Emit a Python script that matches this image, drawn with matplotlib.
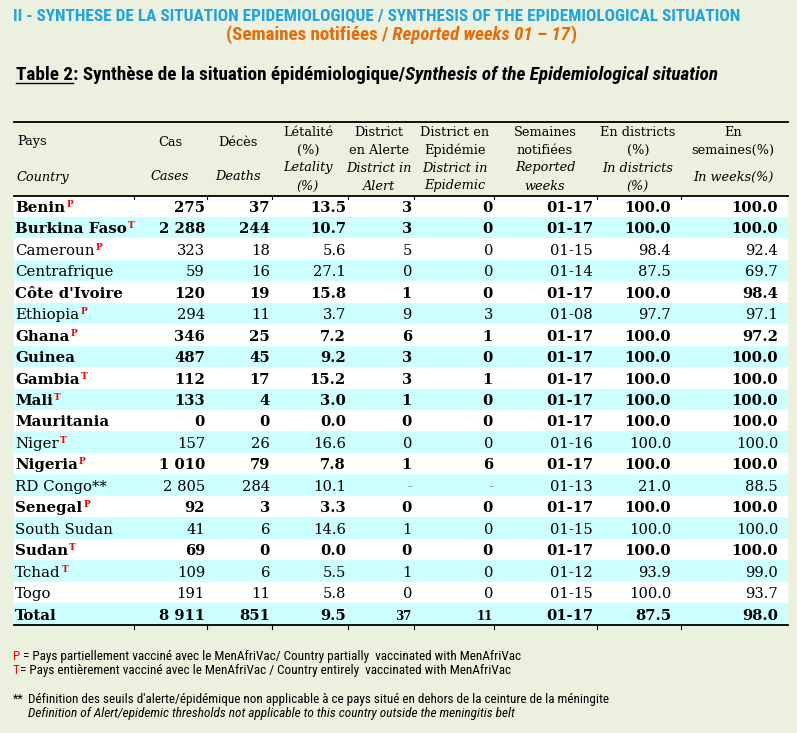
import matplotlib
matplotlib.use("Agg")
import matplotlib.pyplot as plt
from matplotlib import font_manager
from matplotlib.patches import Rectangle

# table data
countries = ["Benin", "Burkina Faso", "Cameroun", "Centrafrique", "Côte d'Ivoire",
             "Ethiopia", "Ghana", "Guinea", "Gambia", "Mali", "Mauritania", "Niger",
             "Nigeria", "RD Congo**", "Senegal", "South Sudan", "Sudan", "Tchad",
             "Togo", "Total"]
vacc_marks = ["P", "T", "P", "", "", "P", "P", "", "T", "T", "", "T", "P", "",
              "P", "", "T", "T", "", ""]
bold_rows = [True, True, False, False, True, False, True, True, True, True, True,
             False, True, False, True, False, True, False, False, True]
cases = [275, 2288, 323, 59, 120, 294, 346, 487, 112, 133, 0, 157, 1010, 2805,
         92, 41, 69, 109, 191, 8911]
deaths = [37, 244, 18, 16, 19, 11, 25, 45, 17, 4, 0, 26, 79, 284, 3, 6, 0, 6, 11, 851]
letality = [13.5, 10.7, 5.6, 27.1, 15.8, 3.7, 7.2, 9.2, 15.2, 3.0, 0.0, 16.6, 7.8,
            10.1, 3.3, 14.6, 0.0, 5.5, 5.8, 9.5]
alert = [3, 3, 5, 0, 1, 9, 6, 3, 3, 1, 0, 0, 1, None, 0, 1, 0, 1, 0, 37]
epidemic = [0, 0, 0, 0, 0, 3, 1, 0, 1, 0, 0, 0, 6, None, 0, 0, 0, 0, 0, 11]
weeks = ["01-17", "01-17", "01-15", "01-14", "01-17", "01-08", "01-17", "01-17",
         "01-17", "01-17", "01-17", "01-16", "01-17", "01-13", "01-17", "01-15",
         "01-17", "01-12", "01-15", "01-17"]
pct_districts = [100.0, 100.0, 98.4, 87.5, 100.0, 97.7, 100.0, 100.0, 100.0, 100.0,
                 100.0, 100.0, 100.0, 21.0, 100.0, 100.0, 100.0, 93.9, 100.0, 87.5]
pct_weeks = [100.0, 100.0, 92.4, 69.7, 98.4, 97.1, 97.2, 100.0, 100.0, 100.0, 100.0,
             100.0, 100.0, 88.5, 100.0, 100.0, 100.0, 99.0, 93.7, 98.0]

hdr_fr = [["Pays"], ["Cas"], ["Décès"], ["Létalité", "(%)"], ["District", "en Alerte"],
          ["District en", "Epidémie"], ["Semaines", "notifiées"], ["En districts", "(%)"],
          ["En", "semaines(%)"]]
hdr_en = [["Country"], ["Cases"], ["Deaths"], ["Letality", "(%)"], ["District in", "Alert"],
          ["District in", "Epidemic"], ["Reported", "weeks"], ["In districts", "(%)"],
          ["In weeks(%)"]]

BG = "#EBF1DE"
CYAN = "#CCFFFF"
BLUE = "#1FA3DD"
ORANGE = "#E46C0A"
RED = "#FF0000"

# pick a narrow sans for the titles and notes if one is installed
NARROW, STRETCH = "DejaVu Sans", "normal"
entries = font_manager.fontManager.ttflist
for fam in ["Liberation Sans Narrow", "Roboto Condensed", "Open Sans Condensed",
            "Noto Sans", "DejaVu Sans", "Open Sans", "Roboto"]:
    hits = [f for f in entries if f.name == fam and str(f.stretch) in ("condensed", "semi-condensed")]
    if fam == "Liberation Sans Narrow" and any(f.name == fam for f in entries):
        NARROW, STRETCH = fam, "normal"
        break
    if hits:
        NARROW, STRETCH = fam, str(hits[0].stretch)
        break
SERIF = "DejaVu Serif"

fig = plt.figure(figsize=(7.97, 7.33), dpi=100)
fig.patch.set_facecolor(BG)
ax = fig.add_axes([0, 0, 1, 1])
ax.set_xlim(0, 797)
ax.set_ylim(733, 0)
ax.axis("off")
rend = fig.canvas.get_renderer()


def width(t):
    return t.get_window_extent(rend).width


def runs(x, y, parts, size, target=None):
    # draw pieces of text one after the other, optionally scaled to a target width
    drawn = []
    x0 = x
    for s, kw in parts:
        t = ax.text(x, y, s, fontsize=size, family=NARROW, fontstretch=STRETCH,
                    va="baseline", ha="left", **kw)
        x += width(t)
        drawn.append(t)
    if target is not None:
        for t in drawn:
            t.remove()
        return runs(x0, y, parts, size * target / (x - x0), None)
    return drawn, x


# titles
runs(12.7, 21, [("II - SYNTHESE DE LA SITUATION EPIDEMIOLOGIQUE / SYNTHESIS OF THE EPIDEMIOLOGICAL SITUATION",
                 dict(color=BLUE, weight="bold"))], 11, target=729)
runs(226, 40, [("(Semaines notifiées /", dict(color=ORANGE, weight="bold")),
               (" Reported weeks 01 \u2013 17", dict(color=ORANGE, weight="bold", style="italic")),
               (")", dict(color=ORANGE, weight="bold"))], 11, target=350)
parts, _ = runs(16, 80, [("Table 2", dict(weight="bold")),
                         (": Synthèse de la situation épidémiologique/", dict(weight="bold")),
                         ("Synthesis of the Epidemiological situation", dict(weight="bold", style="italic"))],
                12, target=705)
ax.plot([16, 16 + width(parts[0])], [82.5, 82.5], color="black", lw=1)

# table frame
left, right = 14, 788
bounds = [134, 207, 272, 348, 414, 494, 597, 681]
row_top, row_h = 195.5, 21.45
n = len(countries)
for i in range(n):
    ax.add_patch(Rectangle((left, row_top + i * row_h), right - left, row_h,
                           facecolor=CYAN if i % 2 else "white", lw=0, zorder=0))
bottom = row_top + n * row_h
for yl in (122, row_top, bottom):
    ax.plot([left, right], [yl, yl], color="black", lw=1.3, zorder=3)
for xb in bounds:
    ax.plot([xb, xb], [row_top, row_top + 3], color="black", lw=0.8, zorder=3)
    ax.plot([xb, xb], [bottom, bottom + 4], color="black", lw=0.8, zorder=3)

# header
hdr_x = [17, 170, 238, 308, 379, 455, 545, 638, 733]
for j in range(len(hdr_fr)):
    ha = "left" if j == 0 else "center"
    fr, en = hdr_fr[j], hdr_en[j]
    fr_y = [142] if len(fr) == 1 else [132, 150]
    en_y = [177] if len(en) == 1 else [168, 186]
    for s, yy in zip(fr, fr_y):
        ax.text(hdr_x[j], yy, s, ha=ha, va="center", family=SERIF, fontsize=9.3)
    for s, yy in zip(en, en_y):
        ax.text(hdr_x[j], yy, s, ha=ha, va="center", family=SERIF, fontsize=9.3, style="italic")


def fmt_int(v):
    return "-" if v is None else f"{v:,}".replace(",", " ")


col_text = [
    [fmt_int(v) for v in cases],
    [fmt_int(v) for v in deaths],
    [f"{v:.1f}" for v in letality],
    [fmt_int(v) for v in alert],
    [fmt_int(v) for v in epidemic],
    weeks,
    [f"{v:.1f}" for v in pct_districts],
    [f"{v:.1f}" for v in pct_weeks],
]
col_right = [205, 270, 346, 412, 493, 593, 671, 778]

for i in range(n):
    base = row_top + i * row_h + 16.5
    wt = "bold" if bold_rows[i] else "normal"
    t = ax.text(15, base, countries[i], ha="left", va="baseline", family=SERIF,
                fontsize=10.8, weight=wt, zorder=4)
    if vacc_marks[i]:
        ax.text(15 + width(t) + 1, base - 5, vacc_marks[i], ha="left", va="baseline",
                family=SERIF, fontsize=6.5, weight="bold", color=RED, zorder=4)
    for c in range(len(col_text)):
        s = col_text[c][i]
        size = 10.6
        if countries[i] == "Total" and c in (3, 4):
            size = 8.5
        ax.text(col_right[c], base, s, ha="right", va="baseline", family=SERIF,
                fontsize=size, weight=wt, color="#7F7F7F" if s == "-" else "black", zorder=4)

# footnotes
runs(12.7, 660, [("P", dict(color=RED)),
                 (" = Pays partiellement vacciné avec le MenAfriVac/ Country partially  vaccinated with MenAfriVac",
                  dict())], 8, target=508)
runs(12.7, 674, [("T", dict(color=RED)),
                 ("= Pays entièrement vacciné avec le MenAfriVac / Country entirely  vaccinated with MenAfriVac",
                  dict())], 8, target=499)
ax.text(12.7, 703, "**", ha="left", va="baseline", family=NARROW, fontstretch=STRETCH, fontsize=9)
runs(28, 703, [("Définition des seuils d'alerte/épidémique non applicable à ce pays situé en dehors de la ceinture de la méningite",
                dict())], 8, target=582)
runs(28, 717, [("Definition of Alert/epidemic thresholds not applicable to this country outside the meningitis belt",
                dict(style="italic"))], 8, target=485)

fig.savefig("out.png", dpi=100, facecolor=BG)
